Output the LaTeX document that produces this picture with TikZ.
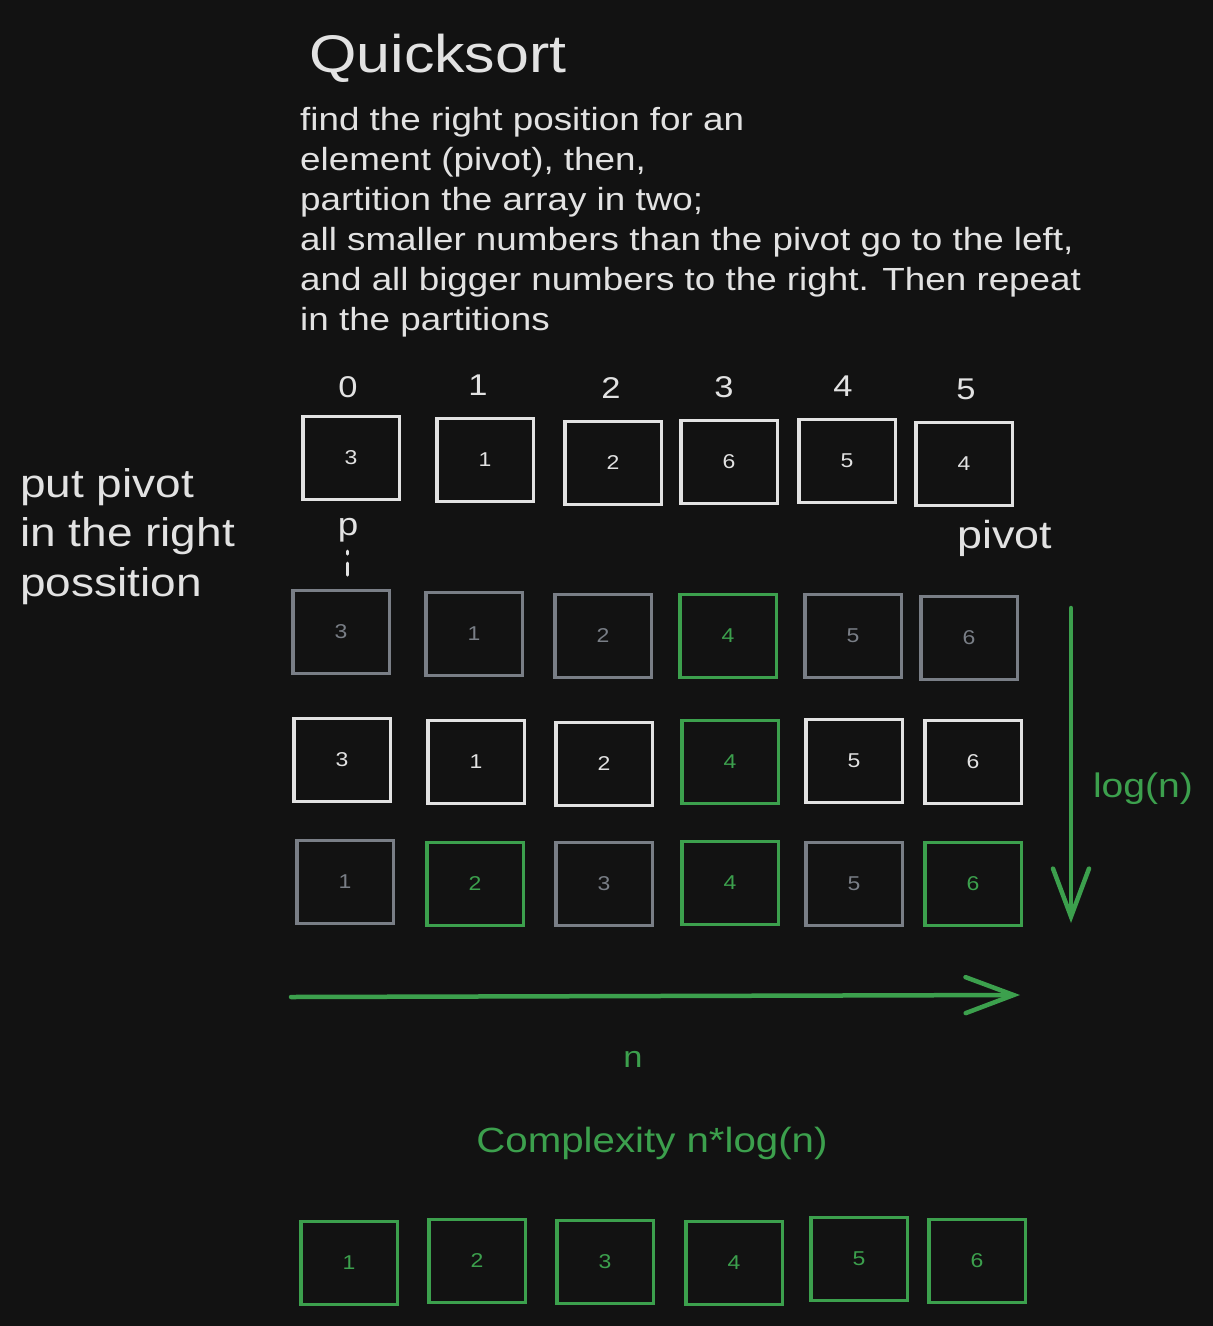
\documentclass[tikz,border=0pt]{standalone}
\usepackage{fontspec}
\setmainfont[FakeStretch=1.15]{Liberation Sans}
\usetikzlibrary{arrows.meta}
\definecolor{bg}{HTML}{121212}
\definecolor{fg}{HTML}{E2E2E2}
\definecolor{gr}{HTML}{797E86}
\definecolor{grn}{HTML}{3CA04D}
\newcommand{\fs}[1]{\fontsize{#1}{#1}\selectfont}
\tikzset{
  cell/.style={draw, line width=3.5pt, minimum width=96.5pt, minimum height=83pt, inner sep=0pt, font=\fs{20}},
  wcell/.style={cell, draw=fg, text=fg},
  gcell/.style={cell, draw=gr, text=gr},
  ncell/.style={cell, draw=grn, text=grn},
  para/.style={anchor=base west, inner sep=0pt, text=fg, font=\fs{32}},
  side/.style={anchor=base west, inner sep=0pt, text=fg, font=\fs{40}},
  idx/.style={anchor=base, inner sep=0pt, text=fg, font=\fs{30}},
  glabel/.style={anchor=base, inner sep=0pt, text=grn},
  garrow/.style={draw=grn, line width=4.5pt, line cap=round,
    -{Straight Barb[length=48pt, width=36pt, line cap=round]}},
}
\begin{document}
\begin{tikzpicture}[x=1pt, y=-1pt]
\fill[bg] (0,0) rectangle (1213,1326);
\useasboundingbox (0,0) rectangle (1213,1326);

% title and description
\node[anchor=base west, inner sep=0pt, text=fg, font=\fs{53}] (title) at (309,72) {Quicksort};
\node[para] (d1) at (300,130) {find the right position for an};
\node[para] (d2) at (300,170) {element (pivot), then,};
\node[para] (d3) at (300,210) {partition the array in two;};
\node[para] (d4) at (300,250) {all smaller numbers than the pivot go to the left,};
\node[para] (d5) at (300,290) {and all bigger numbers to the right. Then repeat};
\node[para] (d6) at (300,330) {in the partitions};

% side text
\node[side] (s1) at (20,497) {put pivot};
\node[side] (s2) at (20,546) {in the right};
\node[side] (s3) at (20,596) {possition};

% indices
\node[idx] (i0) at (348,397) {0};
\node[idx] (i1) at (478,395) {1};
\node[idx] (i2) at (611,398) {2};
\node[idx] (i3) at (724,397) {3};
\node[idx] (i4) at (843,396) {4};
\node[idx] (i5) at (966,399) {5};

% row 1
\node[wcell] (a0) at (351,458) {3};
\node[wcell] (a1) at (485,460) {1};
\node[wcell] (a2) at (613,463) {2};
\node[wcell] (a3) at (729,462) {6};
\node[wcell] (a4) at (847,461) {5};
\node[wcell] (a5) at (964,464) {4};

% p marker and pivot label
\node[anchor=base, inner sep=0pt, text=fg, font=\fs{32}] (pm) at (348,535) {p};
\coordinate (pd1) at (347,551);
\coordinate (pd2) at (347,577);
\draw[fg, line width=3pt, line cap=round, dash pattern=on 3pt off 9pt on 12pt off 20pt] (pd1) -- (pd2);
\node[anchor=base west, inner sep=0pt, text=fg, font=\fs{39}] (pv) at (957,548) {pivot};

% row 2
\node[gcell] (b0) at (341,632) {3};
\node[gcell] (b1) at (474,634) {1};
\node[gcell] (b2) at (603,636) {2};
\node[ncell] (b3) at (728,636) {4};
\node[gcell] (b4) at (853,636) {5};
\node[gcell] (b5) at (969,638) {6};

% row 3
\node[wcell] (c0) at (342,760) {3};
\node[wcell] (c1) at (476,762) {1};
\node[wcell] (c2) at (604,764) {2};
\node[ncell] (c3) at (730,762) {4};
\node[wcell] (c4) at (854,761) {5};
\node[wcell] (c5) at (973,762) {6};

% row 4
\node[gcell] (e0) at (345,882) {1};
\node[ncell] (e1) at (475,884) {2};
\node[gcell] (e2) at (604,884) {3};
\node[ncell] (e3) at (730,883) {4};
\node[gcell] (e4) at (854,884) {5};
\node[ncell] (e5) at (973,884) {6};

% arrows
\coordinate (vtop) at (1071,608);
\coordinate (vbot) at (1071,923);
\draw[garrow] (vtop) -- (vbot);
\node[glabel, font=\fs{34}] (logn) at (1143,797) {log(n)};

\coordinate (hl) at (291,997);
\coordinate (hr) at (1020,995);
\draw[garrow] (hl) -- (hr);
\node[glabel, font=\fs{30}] (nl) at (633,1067) {n};

\node[glabel, font=\fs{35}] (cx) at (652,1152) {Complexity n*log(n)};

% final row
\node[ncell] (f0) at (349,1263) {1};
\node[ncell] (f1) at (477,1261) {2};
\node[ncell] (f2) at (605,1262) {3};
\node[ncell] (f3) at (734,1263) {4};
\node[ncell] (f4) at (859,1259) {5};
\node[ncell] (f5) at (977,1261) {6};
\end{tikzpicture}
\end{document}
